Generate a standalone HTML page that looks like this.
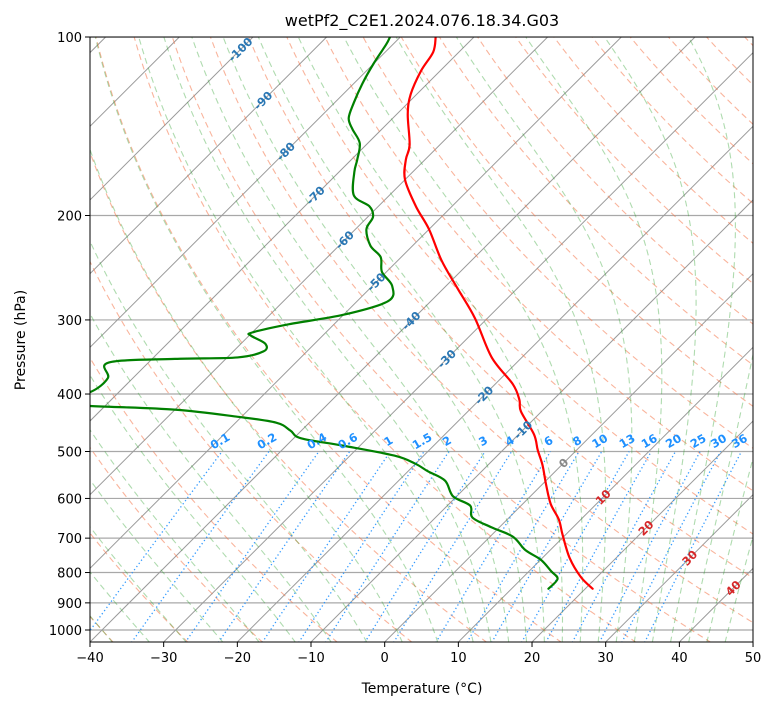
<!DOCTYPE html>
<html><head><meta charset="utf-8"><style>
html,body{margin:0;padding:0;background:#fff;}
svg{display:block;font-family:"DejaVu Sans","Liberation Sans",sans-serif;}
</style></head><body>
<svg id="chart" width="775" height="708" viewBox="0 0 775 708" xmlns="http://www.w3.org/2000/svg">
<defs><clipPath id="plotclip"><rect x="90" y="37" width="663" height="605"/></clipPath></defs>
<rect x="0" y="0" width="775" height="708" fill="#fff"/>
<text x="422" y="26" font-size="16" text-anchor="middle" fill="#000">wetPf2_C2E1.2024.076.18.34.G03</text>
<g id="bg" clip-path="url(#plotclip)"></g>
<g id="series" clip-path="url(#plotclip)"></g>
<g id="labels" clip-path="url(#plotclip)"></g>
<rect x="90" y="37" width="663" height="605" fill="none" stroke="#000" stroke-width="1"/>
<g id="axes"></g>
<text x="422" y="693" font-size="14" text-anchor="middle">Temperature (°C)</text>
<text x="0" y="0" font-size="14" text-anchor="middle" transform="translate(25,340) rotate(-90)">Pressure (hPa)</text>
</svg>
<script>
// ---- data ----
const tempPressure = [100,106,114,125,135,152,161,174,193,211,238,265,298,347,385,409,428,468,497,527,568,613,651,691,756,814,852];
const tempValues   = [-75.2,-73.5,-72.6,-70.8,-68.5,-64.1,-62.6,-60.0,-54.9,-50.0,-44.1,-38.2,-31.7,-24.1,-17.6,-14.6,-12.8,-7.9,-5.3,-2.6,0.5,3.8,7.0,9.6,13.7,17.8,21.0];
const dewPressure  = [100,103,111,120,129,137,143,151,161,169,185,193,201,211,225,235,249,263,279,294,305,315,319,329,339,347,349,354,376,397,406,415,419,425,437,447,461,475,489,508,524,540,560,595,617,646,671,696,733,761,796,820,852];
const dewValues    = [-81.4,-80.9,-80.0,-78.8,-77.4,-76.0,-74.0,-71.1,-69.2,-67.9,-64.8,-61.2,-59.3,-58.5,-55.7,-52.8,-50.6,-47.3,-45.8,-50.0,-56.1,-60.0,-59.7,-56.7,-55.9,-58.6,-66.9,-75.4,-73.4,-73.9,-77.2,-76.2,-72.0,-60.1,-50.5,-44.5,-41.5,-39.0,-32.2,-24.0,-20.1,-17.3,-13.7,-10.5,-6.9,-5.0,-1.1,3.1,6.6,10.0,13.0,14.9,15.0];
const xTicks = [-40,-30,-20,-10,0,10,20,30,40,50];
const yTicks = [100,200,300,400,500,600,700,800,900,1000];
const mixRatios = [0.1,0.2,0.4,0.6,1,1.5,2,3,4,6,8,10,13,16,20,25,30,36];
const mixLabels = ["0.1","0.2","0.4","0.6","1","1.5","2","3","4","6","8","10","13","16","20","25","30","36"];
const isoLabelT = [-100,-90,-80,-70,-60,-50,-40,-30,-20,-10,0,10,20,30,40];
const isoLabelP = [105,128,156,185,220,259,301,349,402,460,523,597,673,756,850];

// ---- axes ----
const L=90,T0=37,W=663,H=605,B=642;
function yP(p){return T0+593*Math.log10(p/100);}
function xT(t,p){return L+(t+40)*7.367+(B-yP(p));}
const NS="http://www.w3.org/2000/svg";
function mk(tag,attrs,parent){const e=document.createElementNS(NS,tag);for(const k in attrs)e.setAttribute(k,attrs[k]);parent.appendChild(e);return e;}
const bg=document.getElementById('bg'),ser=document.getElementById('series'),lab=document.getElementById('labels'),ax=document.getElementById('axes');
function pathFrom(ps,ts){let d='';for(let i=0;i<ps.length;i++){d+=(i?'L':'M')+xT(ts[i],ps[i]).toFixed(2)+','+yP(ps[i]).toFixed(2);}return d;}
function smoothFrom(ps,ts){
  const pts=ps.map((p,i)=>[xT(ts[i],p),yP(p)]);
  let d='M'+pts[0][0].toFixed(2)+','+pts[0][1].toFixed(2);
  for(let i=0;i<pts.length-1;i++){
    const p0=pts[Math.max(0,i-1)],p1=pts[i],p2=pts[i+1],p3=pts[Math.min(pts.length-1,i+2)];
    const c1=[p1[0]+(p2[0]-p0[0])/6,p1[1]+(p2[1]-p0[1])/6],c2=[p2[0]-(p3[0]-p1[0])/6,p2[1]-(p3[1]-p1[1])/6];
    d+='C'+c1[0].toFixed(2)+','+c1[1].toFixed(2)+' '+c2[0].toFixed(2)+','+c2[1].toFixed(2)+' '+p2[0].toFixed(2)+','+p2[1].toFixed(2);
  }
  return d;
}

// isobars
for(const p of yTicks){
  const l=mk('line',{x1:L,x2:L+W,y1:yP(p),y2:yP(p),stroke:'#a8a8a8','stroke-width':1.2},bg);
  
  
}
// isotherms
for(let t=-160;t<=50;t+=10){
  const l=mk('line',{x1:xT(t,1050),y1:yP(1050),x2:xT(t,100),y2:yP(100),stroke:'#9a9a9a','stroke-width':1},bg);
  
  
}
const levs=[];for(let p=1050;p>=99;p-=5)levs.push(p);
// dry adiabats
for(let th=-40;th<=200;th+=10){
  const ts=levs.map(p=>(th+273.15)*Math.pow(p/1000,0.2857)-273.15);
  const e=mk('path',{d:pathFrom(levs,ts),fill:'none',stroke:'#f4764a','stroke-opacity':0.55,'stroke-width':1.1,'stroke-dasharray':'6,4'},bg);
  
  
}
// moist adiabats
function es(T){return 6.112*Math.exp(17.67*(T-273.15)/(T-29.65));}
function dTdp(T,p){const e=es(T);const r=0.622*e/(p-e);const Rd=287.04,Cp=1005.7,Lv=2.501e6;return (Rd*T+Lv*r)/(p*(Cp+Lv*Lv*r*0.622/(Rd*T*T)));}
const moistT0=[];for(let t=-50;t<=10;t+=5)moistT0.push(t);for(let t=12.5;t<=45;t+=2.5)moistT0.push(t);
for(const t0 of moistT0){
  const T=t0+273.15;const up=[],down=[];
  let Tu=T;for(let q=1000;q>100;q-=5){const h=-5;const k1=dTdp(Tu,q),k2=dTdp(Tu+h/2*k1,q+h/2),k3=dTdp(Tu+h/2*k2,q+h/2),k4=dTdp(Tu+h*k3,q+h);Tu+=h/6*(k1+2*k2+2*k3+k4);up.push([q+h,Tu-273.15]);}
  let Td=T;for(let q=1000;q<1050;q+=5){const h=5;const k1=dTdp(Td,q),k2=dTdp(Td+h/2*k1,q+h/2),k3=dTdp(Td+h/2*k2,q+h/2),k4=dTdp(Td+h*k3,q+h);Td+=h/6*(k1+2*k2+2*k3+k4);down.push([q+h,Td-273.15]);}
  const all=down.reverse().concat([[1000,t0]]).concat(up);
  const e=mk('path',{d:pathFrom(all.map(a=>a[0]),all.map(a=>a[1])),fill:'none',stroke:'#2ca02c','stroke-opacity':0.38,'stroke-width':1.1,'stroke-dasharray':'6,4'},bg);
  
  
}
// mixing ratio lines
function tdFromW(w,p){const e=w*p/(622+w);const a=Math.log(e/6.112);return 243.5*a/(17.67-a);}
mixRatios.forEach((w,i)=>{
  const ps=[];for(let p=1050;p>=500;p-=10)ps.push(p);
  const ts=ps.map(p=>tdFromW(w,p));
  const e=mk('path',{d:pathFrom(ps,ts),fill:'none',stroke:'#1e90ff','stroke-opacity':0.9,'stroke-width':1.3,'stroke-dasharray':'1.3,2.6'},bg);
  
  
  const x=xT(tdFromW(w,500),500),y=yP(500)-7;
  const t=mk('text',{x:x,y:y,'font-size':11.5,'font-weight':'bold',fill:'#1e90ff','text-anchor':'middle',transform:`rotate(-30 ${x} ${y})`},lab);
  t.textContent=mixLabels[i];
  
  
});
// isotherm labels
isoLabelT.forEach((tv,i)=>{
  const p=isoLabelP[i];const x=xT(tv,p),y=yP(p)+4;
  const col=tv<0?'#2a77b4':(tv===0?'#888':'#d62728');
  const t=mk('text',{x:x,y:y,'font-size':11.5,'font-weight':'bold',fill:col,'text-anchor':'middle',transform:`rotate(-45 ${x} ${y-4})`},lab);
  t.textContent=String(tv);
  
  
});
// profiles
const tl=mk('path',{d:smoothFrom(tempPressure,tempValues),fill:'none',stroke:'#ff0000','stroke-width':2.2,'stroke-linejoin':'round','stroke-linecap':'round'},ser);


const dl=mk('path',{d:smoothFrom(dewPressure,dewValues),fill:'none',stroke:'#008000','stroke-width':2.2,'stroke-linejoin':'round','stroke-linecap':'round'},ser);


// ticks
xTicks.forEach(v=>{
  const x=L+(v+40)*7.367;
  const tk=mk('line',{x1:x,x2:x,y1:B,y2:B+5,stroke:'#000','stroke-width':1},ax);
  
  
  const t=mk('text',{x:x,y:B+20,'font-size':13,'text-anchor':'middle'},ax);
  t.textContent=(v<0?'\u2212'+(-v):String(v));
  
  
});
yTicks.forEach(v=>{
  const y=yP(v);
  const tk=mk('line',{x1:L-5,x2:L,y1:y,y2:y,stroke:'#000','stroke-width':1},ax);
  
  
  const t=mk('text',{x:L-8,y:y+5,'font-size':13,'text-anchor':'end'},ax);
  t.textContent=String(v);
  
  
});
</script>
</body></html>
